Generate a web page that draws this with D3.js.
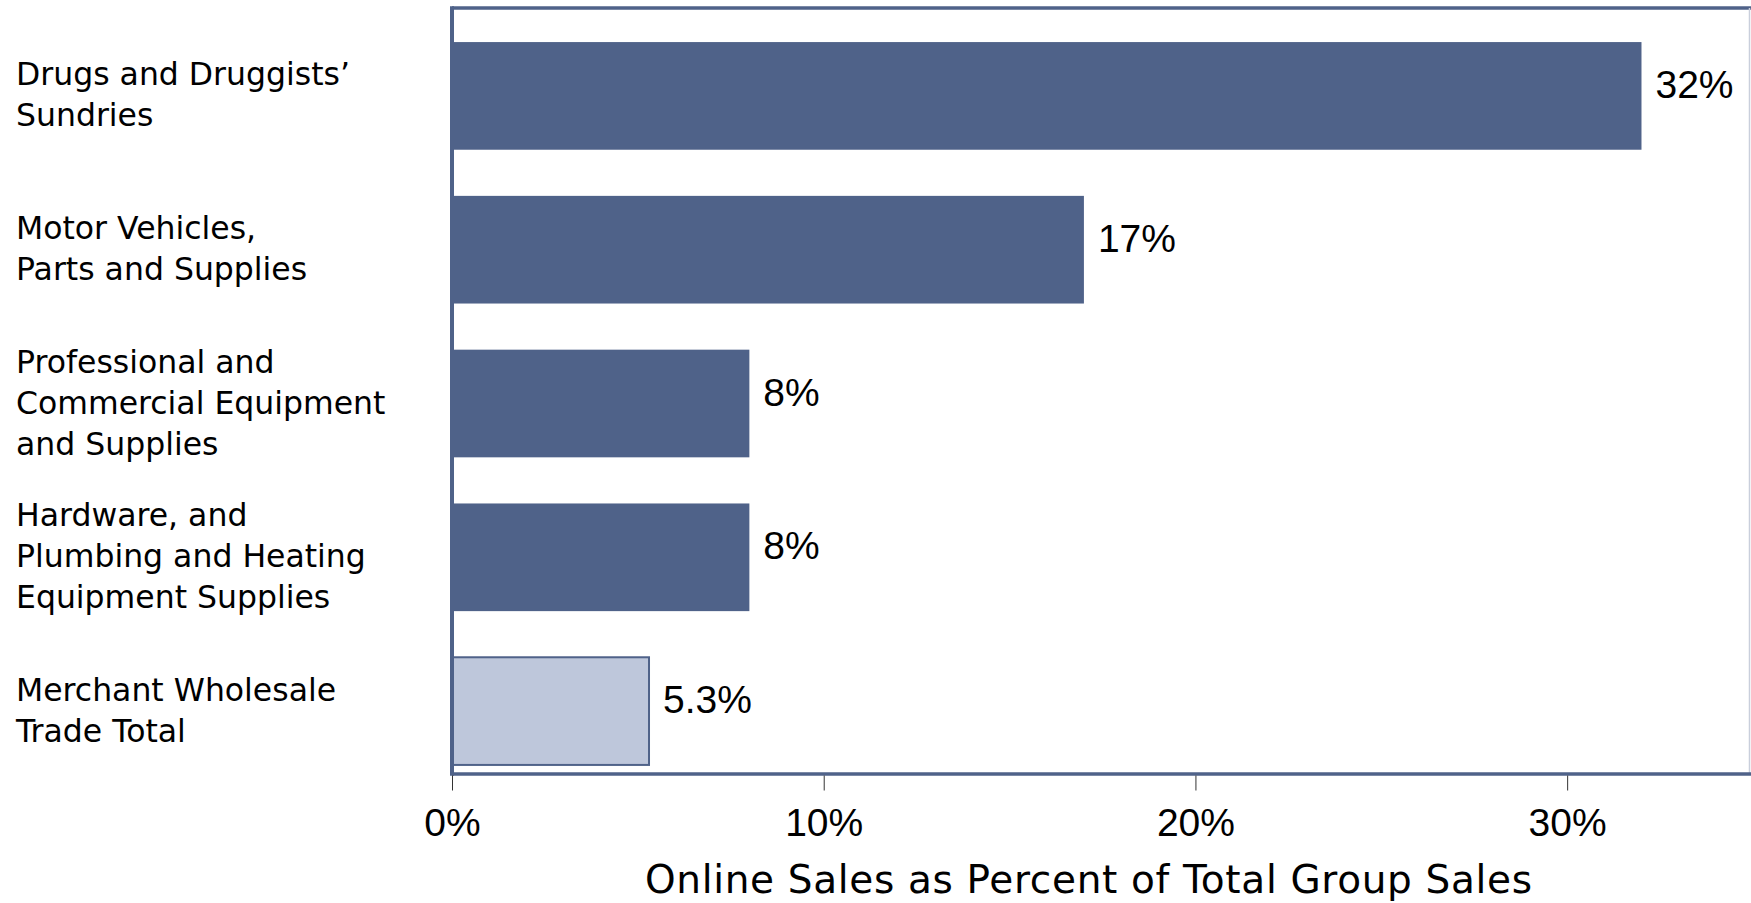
<!DOCTYPE html>
<html>
<head>
<meta charset="utf-8">
<script src="https://cdn.jsdelivr.net/npm/d3@7"></script>
<style>
  html, body { margin: 0; padding: 0; background: #ffffff; }
  svg { display: block; }
</style>
</head>
<body>
<svg id="chart" width="1751" height="903"></svg>
<script>
// Online sales share by merchant wholesale group
const categories = [
  "Drugs and Druggists’ Sundries",
  "Motor Vehicles, Parts and Supplies",
  "Professional and Commercial Equipment and Supplies",
  "Hardware, and Plumbing and Heating Equipment Supplies",
  "Merchant Wholesale Trade Total"
];
const categoryLines = [
  ["Drugs and Druggists’", "Sundries"],
  ["Motor Vehicles,", "Parts and Supplies"],
  ["Professional and", "Commercial Equipment", "and Supplies"],
  ["Hardware, and", "Plumbing and Heating", "Equipment Supplies"],
  ["Merchant Wholesale", "Trade Total"]
];
const values = [32, 17, 8, 8, 5.3];
const valueLabels = ["32%", "17%", "8%", "8%", "5.3%"];
const isTotal = [false, false, false, false, true];
const tickValues = [0, 10, 20, 30];
const axisTitle = "Online Sales as Percent of Total Group Sales";

const W = 1751, H = 903;
const frame = { left: 452, top: 8, bottom: 774, right: W - 1.5 };
const dark = "#4F6289";
const light = "#BEC7DB";

const svg = d3.select("#chart");

const x = d3.scaleLinear().domain([0, 35]).range([frame.left, 1753]);
const y = d3.scaleBand().domain(categories).range([19, 788])
  .paddingInner(0.3).paddingOuter(0.15);

// bars
svg.append("g").selectAll("rect")
  .data(categories)
  .join("rect")
  .attr("x", x(0))
  .attr("y", d => y(d))
  .attr("width", (d, i) => x(values[i]) - x(0))
  .attr("height", y.bandwidth())
  .attr("fill", (d, i) => isTotal[i] ? light : dark)
  .attr("stroke", (d, i) => isTotal[i] ? dark : "none")
  .attr("stroke-width", 2);

// value labels
svg.append("g").selectAll("text")
  .data(categories)
  .join("text")
  .attr("x", (d, i) => x(values[i]) + 14)
  .attr("y", d => y(d) + y.bandwidth() / 2 + 2)
  .attr("font-family", "'Liberation Sans', Arial, sans-serif")
  .attr("font-size", 39)
  .attr("fill", "#000")
  .text((d, i) => valueLabels[i]);

// plot frame
const fr = svg.append("g");
fr.append("line").attr("x1", frame.left).attr("x2", W).attr("y1", frame.top).attr("y2", frame.top)
  .attr("stroke", dark).attr("stroke-width", 3.5);
fr.append("line").attr("x1", frame.right).attr("x2", frame.right).attr("y1", frame.top).attr("y2", frame.bottom)
  .attr("stroke", "#C9CFDC").attr("stroke-width", 1.5);
fr.append("line").attr("x1", frame.left).attr("x2", W).attr("y1", frame.bottom).attr("y2", frame.bottom)
  .attr("stroke", dark).attr("stroke-width", 3.5);
fr.append("line").attr("x1", frame.left).attr("x2", frame.left).attr("y1", frame.top - 1.75).attr("y2", frame.bottom + 1.75)
  .attr("stroke", dark).attr("stroke-width", 4);

// category labels
const labelG = svg.append("g")
  .attr("font-family", "'DejaVu Sans', Verdana, sans-serif")
  .attr("font-size", 31.5)
  .attr("fill", "#000");
const lineH = 41;
categories.forEach((c, i) => {
  const lines = categoryLines[i];
  const mid = y(c) + y.bandwidth() / 2 + 10;
  const first = mid - (lines.length - 1) * lineH / 2;
  const t = labelG.append("text").attr("x", 16).attr("y", first);
  lines.forEach((ln, j) => {
    t.append("tspan").attr("x", 16).attr("y", first + j * lineH).text(ln);
  });
});

// x axis
const xAxis = d3.axisBottom(x)
  .tickValues(tickValues)
  .tickFormat(d => d + "%")
  .tickSize(15)
  .tickPadding(0);
const ax = svg.append("g").attr("transform", `translate(0,${frame.bottom + 1.5})`).call(xAxis);
ax.select(".domain").remove();
ax.selectAll(".tick line").attr("stroke", "#333").attr("stroke-width", 1);
ax.selectAll(".tick text")
  .attr("y", 60.5).attr("dy", 0)
  .attr("font-family", "'Liberation Sans', Arial, sans-serif")
  .attr("font-size", 39)
  .attr("fill", "#000");

// axis title
svg.append("text")
  .attr("x", 645)
  .attr("y", 893)
  .attr("font-family", "'DejaVu Sans', Verdana, sans-serif")
  .attr("font-size", 39)
  .attr("textLength", 887)
  .attr("lengthAdjust", "spacing")
  .attr("fill", "#000")
  .text(axisTitle);
</script>
</body>
</html>
